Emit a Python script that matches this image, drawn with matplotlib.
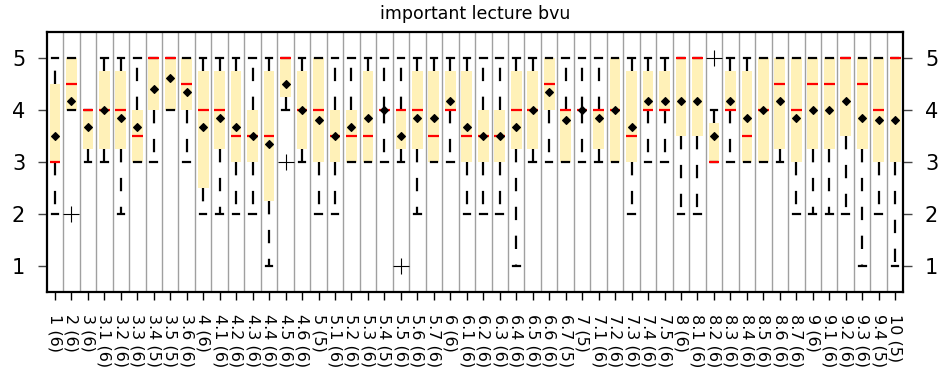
import matplotlib
matplotlib.use("Agg")
from matplotlib import pyplot as plt
import numpy as np

# lecture numbers and the ratings (1-5) given for each
lectures = ["1", "2", "3", "3.1", "3.2", "3.3", "3.4", "3.5", "3.6",
            "4", "4.1", "4.2", "4.3", "4.4", "4.5", "4.6",
            "5", "5.1", "5.2", "5.3", "5.4", "5.5", "5.6", "5.7",
            "6", "6.1", "6.2", "6.3", "6.4", "6.5", "6.6", "6.7",
            "7", "7.1", "7.2", "7.3", "7.4", "7.5",
            "8", "8.1", "8.2", "8.3", "8.4", "8.5", "8.6", "8.7",
            "9", "9.1", "9.2", "9.3", "9.4", "10"]

ratings = [
    [2, 3, 3, 3, 5, 5], [2, 4, 4, 5, 5, 5], [3, 3, 4, 4, 4, 4],
    [3, 3, 4, 4, 5, 5], [2, 3, 4, 4, 5, 5], [3, 3, 3, 4, 4, 5],
    [3, 4, 5, 5, 5], [4, 4, 5, 5, 5], [3, 4, 4, 5, 5, 5],
    [2, 2, 4, 4, 5, 5], [2, 3, 4, 4, 5, 5], [2, 3, 3, 4, 5, 5],
    [2, 3, 3, 4, 4, 5], [1, 2, 3, 4, 5, 5], [3, 4, 5, 5, 5, 5],
    [3, 3, 4, 4, 5, 5],
    [2, 3, 4, 5, 5], [2, 3, 3, 4, 4, 5], [3, 3, 3, 4, 4, 5],
    [3, 3, 3, 4, 5, 5], [3, 4, 4, 4, 5], [1, 3, 4, 4, 4, 5],
    [2, 3, 4, 4, 5, 5], [3, 3, 3, 4, 5, 5],
    [3, 4, 4, 4, 5, 5], [2, 3, 3, 4, 5, 5], [2, 3, 3, 4, 4, 5],
    [2, 3, 3, 4, 4, 5], [1, 3, 4, 4, 5, 5], [3, 3, 4, 4, 5, 5],
    [3, 4, 4, 5, 5, 5], [3, 3, 4, 4, 5],
    [3, 4, 4, 4, 5], [3, 3, 4, 4, 4, 5], [3, 3, 3, 5, 5, 5],
    [2, 3, 3, 4, 5, 5], [3, 4, 4, 4, 5, 5], [3, 4, 4, 4, 5, 5],
    [2, 3, 5, 5, 5, 5], [2, 3, 5, 5, 5, 5], [3, 3, 3, 3, 4, 5],
    [3, 4, 4, 4, 5, 5], [3, 3, 3, 4, 5, 5], [3, 3, 3, 5, 5, 5],
    [3, 3, 4, 5, 5, 5], [2, 3, 3, 5, 5, 5],
    [2, 3, 4, 5, 5, 5], [2, 3, 4, 5, 5, 5], [2, 3, 5, 5, 5, 5],
    [1, 3, 4, 5, 5, 5], [2, 3, 4, 5, 5], [1, 3, 5, 5, 5],
]

tick_labels = ["%s (%d)" % (name, len(r)) for name, r in zip(lectures, ratings)]
positions = np.arange(1, len(ratings) + 1)

fig = plt.figure(figsize=(9.43, 3.81), dpi=100)
ax = fig.add_axes([0.0495, 0.2344, 0.9085, 0.6824])

ax.boxplot(
    ratings,
    positions=positions,
    widths=0.65,
    capwidths=0.4,
    autorange=True,
    patch_artist=True,
    showmeans=True,
    boxprops=dict(facecolor="#fff1b8", edgecolor="none", linewidth=0),
    whiskerprops=dict(color="black", linewidth=1.6, linestyle=(0, (6, 7))),
    capprops=dict(color="black", linewidth=1.6),
    medianprops=dict(color="red", linewidth=1.6),
    meanprops=dict(marker="D", markerfacecolor="black", markeredgecolor="black",
                   markersize=4, markeredgewidth=0.8),
    flierprops=dict(marker="+", markeredgecolor="black", markersize=11,
                    markeredgewidth=0.8),
)

# thin separators between the lectures
for x in positions[:-1] + 0.5:
    ax.axvline(x, color="#a0a0a0", linewidth=1, zorder=0)

ax.set_xlim(0.5, len(ratings) + 0.5)
ax.set_ylim(0.5, 5.5)
ax.set_xticks(positions)
ax.set_xticklabels(tick_labels, rotation=-90, fontsize=11.5)
ax.set_yticks([1, 2, 3, 4, 5])

ax.tick_params(axis="x", direction="out", length=6, width=1, pad=10)
ax.tick_params(axis="y", direction="out", length=6.5, width=1, color="#444444",
               labelsize=15, pad=9, left=True, right=True,
               labelleft=True, labelright=True)

for spine in ax.spines.values():
    spine.set_linewidth(1.6)
    spine.set_color("black")

ax.set_title("important lecture bvu", fontsize=12.5, pad=8.8)

fig.savefig("out.png", dpi=100)
